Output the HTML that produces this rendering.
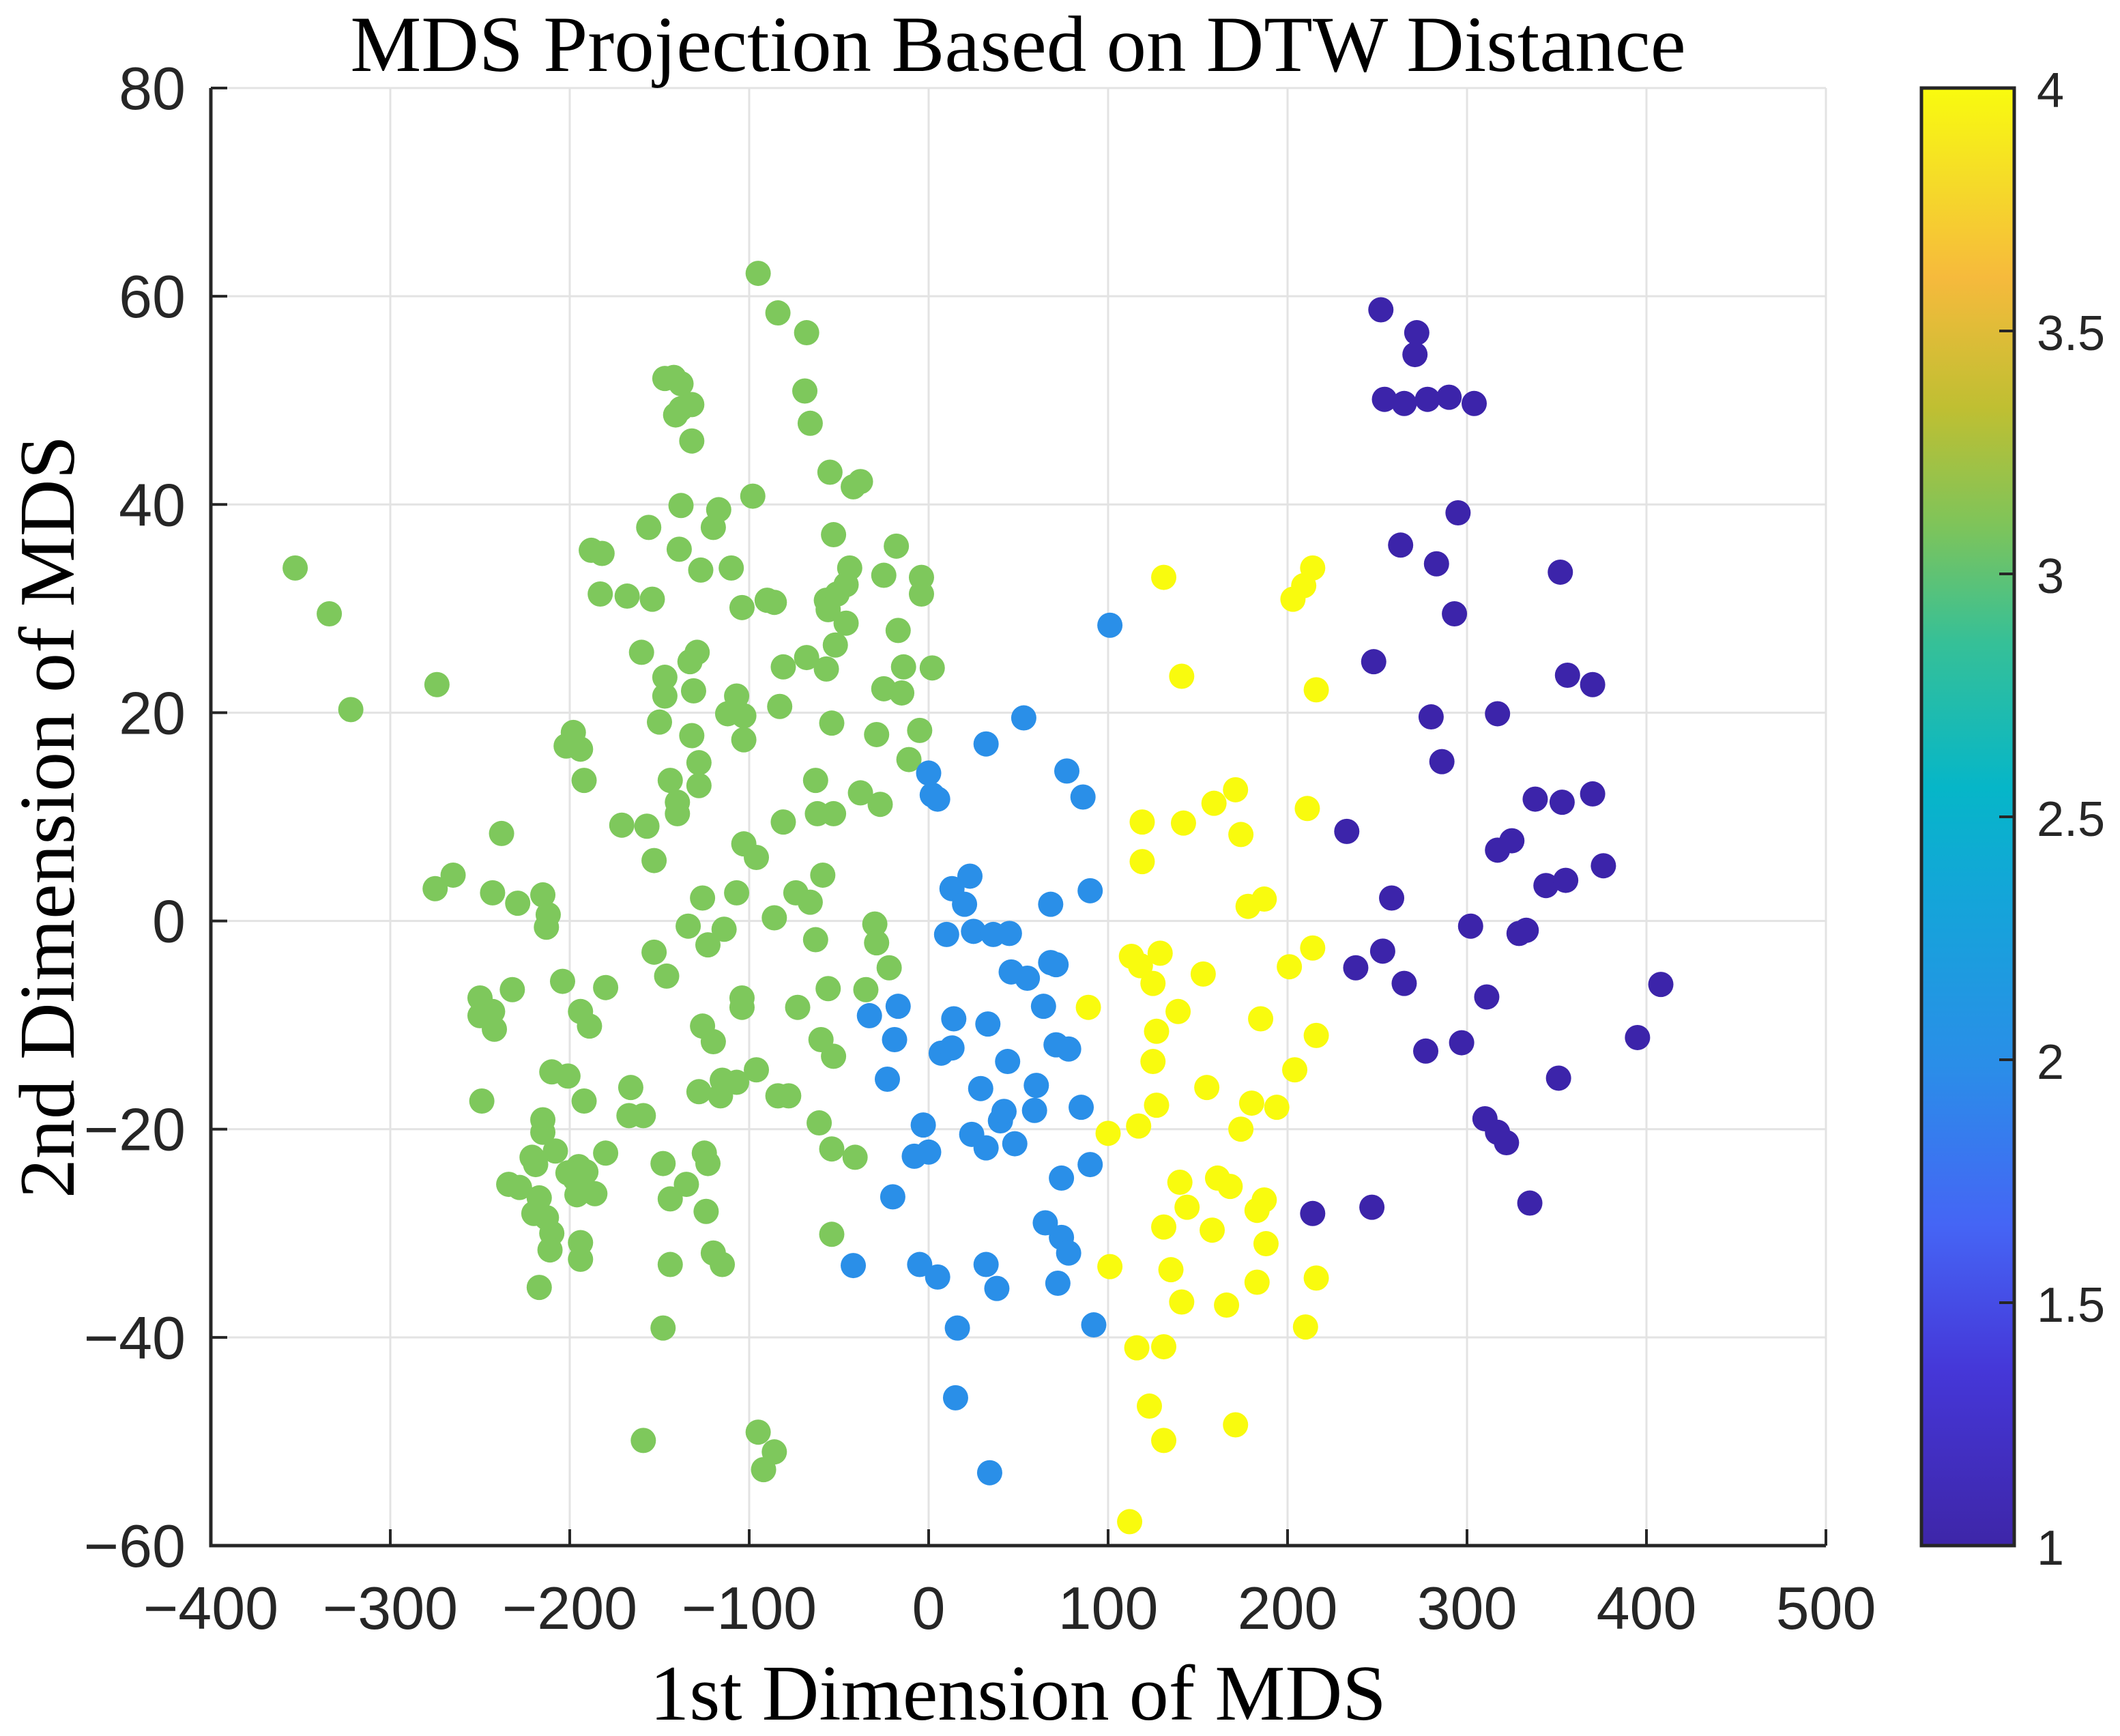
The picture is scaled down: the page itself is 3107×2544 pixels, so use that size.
<!DOCTYPE html>
<html><head><meta charset="utf-8"><style>
html,body{margin:0;padding:0;background:#fff;}
svg{display:block;}
text{font-family:"Liberation Sans",sans-serif;fill:#262626;}
.serif{font-family:"Liberation Serif",serif;fill:#000;}
</style></head><body>
<svg id="chart" width="3107" height="2544" viewBox="0 0 3107 2544" xmlns="http://www.w3.org/2000/svg">
<defs>
<linearGradient id="parula" x1="0" y1="1" x2="0" y2="0">
<stop offset="0" stop-color="#3e26a8"/>
<stop offset="0.12" stop-color="#4537d8"/>
<stop offset="0.22" stop-color="#4565f5"/>
<stop offset="0.33" stop-color="#2a8ee8"/>
<stop offset="0.45" stop-color="#13a6d8"/>
<stop offset="0.52" stop-color="#06b6c8"/>
<stop offset="0.62" stop-color="#36c097"/>
<stop offset="0.70" stop-color="#7ec45a"/>
<stop offset="0.78" stop-color="#bfbf32"/>
<stop offset="0.87" stop-color="#f6ba3c"/>
<stop offset="0.94" stop-color="#f5dd27"/>
<stop offset="1" stop-color="#f9fb0e"/>
</linearGradient>
</defs>
<g id="grid"></g>
<g id="points"></g>
<g id="axes"></g>
<g id="cbar"></g>
<text class="serif" x="1492" y="104" font-size="117" text-anchor="middle">MDS Projection Based on DTW Distance</text>
<text class="serif" x="1492" y="2520" font-size="116" text-anchor="middle">1st Dimension of MDS</text>
<text class="serif" x="0" y="0" font-size="116" text-anchor="middle" transform="translate(108,1197) rotate(-90)">2nd Dimension of MDS</text>
</svg>
<script>
const xTicks=[-400,-300,-200,-100,0,100,200,300,400,500];
const yTicks=[-60,-40,-20,0,20,40,60,80];
const cTicks=[1,1.5,2,2.5,3,3.5,4];
const classColors={1:"#3c24aa",2:"#2a8fe8",3:"#7ec85c",4:"#f9fb0e"};
const class1X=[252,272,271,254,265,278,290,304,295,263,283,352,293,248,356,370,280,317,286,338,353,370,233,325,317,376,344,355,258,302,329,333,253,238,265,408,311,395,297,277,351,310,317,322,214,247,335];
const class1Y=[58.7,56.5,54.4,50.1,49.7,50.1,50.3,49.7,39.2,36.1,34.3,33.5,29.5,24.9,23.6,22.7,19.6,19.9,15.3,11.7,11.4,12.2,8.6,7.7,6.8,5.3,3.4,3.9,2.2,-0.5,-1.2,-0.9,-2.9,-4.5,-6.0,-6.1,-7.3,-11.2,-11.7,-12.5,-15.1,-19.0,-20.3,-21.3,-28.1,-27.5,-27.1];
const class4X=[131,214,209,203,141,216,171,159,211,119,142,174,119,187,178,214,113,129,118,201,153,125,89,139,185,127,216,125,204,155,180,127,194,117,100,174,140,161,168,187,144,183,158,131,188,135,101,183,216,141,166,210,116,131,123,171,131,112];
const class4Y=[33.0,33.9,32.2,30.9,23.5,22.2,12.6,11.3,10.8,9.5,9.4,8.3,5.7,2.1,1.4,-2.6,-3.4,-3.1,-4.3,-4.4,-5.1,-6.0,-8.3,-8.7,-9.4,-10.6,-11.0,-13.5,-14.3,-16.0,-17.5,-17.7,-17.9,-19.7,-20.4,-20.0,-25.1,-24.7,-25.5,-26.8,-27.5,-27.8,-29.7,-29.4,-31.0,-33.5,-33.2,-34.7,-34.3,-36.6,-36.9,-39.0,-41.0,-40.9,-46.6,-48.4,-49.9,-57.7];
const class2X=[101,53,32,77,86,0,2,5,23,13,20,68,90,10,25,36,45,46,55,71,68,-33,-17,14,33,44,64,71,78,-19,7,13,-23,29,60,59,40,42,85,-3,24,32,48,90,-8,0,74,-20,65,74,78,-5,5,32,-42,38,72,92,16,15,34];
const class2Y=[28.4,19.5,17.0,14.4,11.9,14.2,12.1,11.7,4.3,3.1,1.6,1.6,2.9,-1.3,-1.0,-1.3,-1.2,-4.9,-5.5,-4.2,-4.0,-9.1,-8.2,-9.4,-9.9,-13.5,-8.2,-11.9,-12.3,-11.4,-12.7,-12.2,-15.2,-16.1,-15.8,-18.2,-19.2,-18.3,-17.9,-19.6,-20.5,-21.8,-21.4,-23.4,-22.6,-22.2,-24.7,-26.5,-29.0,-30.4,-31.9,-33.0,-34.2,-33.0,-33.1,-35.3,-34.8,-38.8,-39.1,-45.8,-53.0];
const class3X=[-95,-84,-68,-69,-66,-147,-142,-138,-132,-141,-138,-132,-55,-42,-38,-98,-117,-138,-156,-120,-53,-139,-188,-182,-110,-127,-44,-18,-25,-4,-4,-183,-168,-154,-51,-57,-46,-90,-86,-104,-56,-46,-17,-52,-160,-129,-133,-68,-57,-81,-14,2,-147,-147,-131,-107,-112,-103,-83,-25,-15,-54,-150,-132,-103,-29,-5,-198,-194,-202,-11,-128,-63,-192,-144,-128,-140,-38,-27,-62,-53,-140,-171,-157,-81,-238,-103,-96,-153,-59,-265,-275,-243,-107,-74,-66,-215,-229,-126,-212,-86,-30,-213,-134,-114,-63,-29,-123,-153,-22,-146,-204,-180,-56,-35,-232,-250,-104,-73,-104,-243,-250,-194,-189,-242,-60,-53,-120,-126,-210,-201,-96,-107,-115,-128,-166,-192,-249,-78,-84,-116,-167,-159,-215,-61,-215,-54,-41,-180,-125,-221,-148,-208,-123,-219,-195,-191,-201,-197,-135,-234,-228,-186,-144,-196,-217,-220,-124,-213,-210,-54,-194,-211,-194,-120,-115,-144,-217,-148,-159,-95,-86,-92,-353,-334,-322,-274];
const class3Y=[62.2,58.4,56.5,50.9,47.8,52.1,52.2,51.6,49.6,48.6,49.2,46.1,43.1,41.7,42.2,40.8,39.5,39.9,37.8,37.8,37.1,35.7,35.6,35.3,33.9,33.7,33.9,36.0,33.2,33.0,31.4,31.4,31.2,30.9,31.4,30.8,32.3,30.8,30.6,30.1,29.9,28.6,27.9,26.5,25.8,25.8,24.9,25.3,24.2,24.4,24.4,24.3,23.4,21.6,22.1,21.6,19.9,19.7,20.6,22.3,21.9,19.0,19.1,17.8,17.4,17.9,18.3,18.1,16.5,16.8,15.5,15.2,13.5,13.5,13.5,13.0,11.4,12.3,11.2,10.3,10.3,10.3,9.2,9.1,9.5,8.4,7.4,6.1,5.8,4.4,4.4,3.1,2.7,2.7,2.7,1.8,2.5,1.7,2.2,0.6,0.3,-0.3,-0.6,-0.5,-0.8,-1.8,-2.1,-2.3,-3.0,-4.5,-5.3,-5.8,-6.4,-6.5,-6.6,-6.6,-7.4,-7.4,-8.3,-8.3,-8.7,-9.1,-8.7,-10.1,-10.4,-11.4,-13.0,-11.6,-10.1,-14.5,-14.9,-14.3,-15.5,-15.3,-16.4,-16.0,-17.3,-17.3,-16.8,-16.8,-16.8,-18.7,-18.7,-19.1,-19.4,-20.3,-21.9,-22.7,-22.3,-22.3,-22.7,-23.3,-22.1,-23.3,-23.4,-23.6,-24.1,-24.2,-24.8,-25.3,-25.3,-25.6,-26.2,-26.7,-26.3,-26.6,-28.1,-27.9,-28.5,-30.0,-30.1,-30.9,-31.6,-32.5,-31.9,-33.0,-33.0,-35.2,-39.1,-49.9,-49.1,-51.0,-52.7,33.9,29.5,20.3,22.7];

const L=309,R=2676,T=129,B=2265;
const xMin=-400,xMax=500,yMin=-60,yMax=80;
function sx(v){return L+(v-xMin)/(xMax-xMin)*(R-L);}
function sy(v){return B-(v-yMin)/(yMax-yMin)*(B-T);}
const NS="http://www.w3.org/2000/svg";
function mk(tag,attrs,parent){const e=document.createElementNS(NS,tag);for(const k in attrs)e.setAttribute(k,attrs[k]);parent.appendChild(e);return e;}
const grid=document.getElementById('grid'),pts=document.getElementById('points'),axes=document.getElementById('axes'),cb=document.getElementById('cbar');
mk('rect',{x:L,y:T,width:R-L,height:B-T,fill:'#fff'},grid);
xTicks.forEach(v=>{const l=mk('line',{x1:sx(v),x2:sx(v),y1:T,y2:B,stroke:'#e3e3e3','stroke-width':3},grid);

});
yTicks.forEach(v=>{const l=mk('line',{x1:L,x2:R,y1:sy(v),y2:sy(v),stroke:'#e3e3e3','stroke-width':3},grid);

});
function drawClass(xs,ys,c){for(let i=0;i<xs.length;i++){const p=mk('circle',{cx:sx(xs[i]),cy:sy(ys[i]),r:18.5,fill:classColors[c]},pts);

}}
drawClass(class3X,class3Y,3);drawClass(class2X,class2Y,2);drawClass(class4X,class4Y,4);drawClass(class1X,class1Y,1);
const ax=mk('path',{d:`M${L},${T}V${B}H${R}`,fill:'none',stroke:'#262626','stroke-width':5},axes);


xTicks.forEach(v=>{mk('line',{x1:sx(v),x2:sx(v),y1:B,y2:B-24,stroke:'#262626','stroke-width':4},axes);
const t=mk('text',{x:sx(v),y:2387,'font-size':88,'text-anchor':'middle'},axes);t.textContent=(v<0?'\u2212':'')+Math.abs(v);

});
yTicks.forEach(v=>{mk('line',{x1:L,x2:L+24,y1:sy(v),y2:sy(v),stroke:'#262626','stroke-width':4},axes);
const t=mk('text',{x:272,y:sy(v)+31,'font-size':88,'text-anchor':'end'},axes);t.textContent=(v<0?'\u2212':'')+Math.abs(v);

});
const cL=2816,cR=2952,cT=129,cB=2265;
const cr=mk('rect',{x:cL,y:cT,width:cR-cL,height:cB-cT,fill:'url(#parula)',stroke:'#262626','stroke-width':5},cb);


function cy(v){return cB-(v-1)/3*(cB-cT);}
cTicks.forEach(v=>{mk('line',{x1:cR-22,x2:cR,y1:cy(v),y2:cy(v),stroke:'#262626','stroke-width':4},cb);
const t=mk('text',{x:2985,y:cy(v)+28,'font-size':72},cb);t.textContent=String(v);

});
</script>
</body></html>
